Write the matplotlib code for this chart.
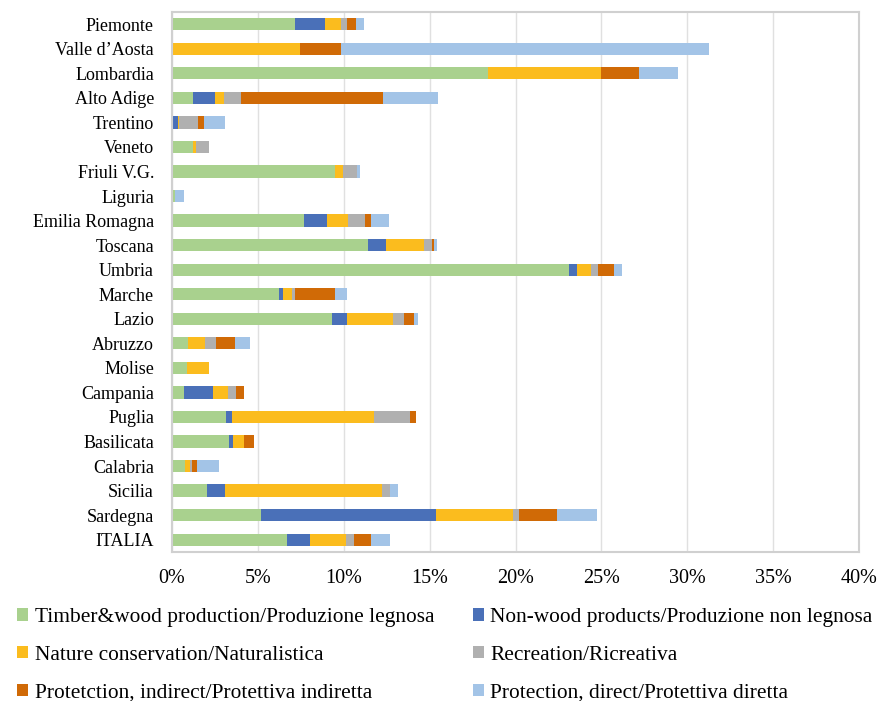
import matplotlib.pyplot as plt
import numpy as np

plt.rcParams['font.family'] = ['Liberation Serif', 'DejaVu Serif']

regions = ['Piemonte', 'Valle d\u2019Aosta', 'Lombardia', 'Alto Adige', 'Trentino', 'Veneto',
           'Friuli V.G.', 'Liguria', 'Emilia Romagna', 'Toscana', 'Umbria', 'Marche',
           'Lazio', 'Abruzzo', 'Molise', 'Campania', 'Puglia', 'Basilicata', 'Calabria',
           'Sicilia', 'Sardegna', 'ITALIA']

# quote percentuali per funzione
timber = [7.16, 0, 18.40, 1.25, 0, 1.25, 9.47, 0.18, 7.67, 11.42, 23.14, 6.21,
          9.34, 0.95, 0.86, 0.70, 3.17, 3.33, 0.76, 2.06, 5.19, 6.71]
nonwood = [1.75, 0, 0, 1.26, 0.33, 0, 0, 0, 1.38, 1.01, 0.46, 0.25,
           0.87, 0, 0, 1.71, 0.33, 0.23, 0, 1.01, 10.16, 1.33]
nature = [0.90, 7.47, 6.60, 0.51, 0.10, 0.17, 0.49, 0, 1.20, 2.24, 0.82, 0.50,
          2.65, 0.98, 1.28, 0.84, 8.25, 0.64, 0.29, 9.13, 4.48, 2.08]
recreation = [0.40, 0, 0, 0.99, 1.07, 0.74, 0.80, 0, 1.00, 0.45, 0.37, 0.22,
              0.62, 0.62, 0, 0.50, 2.08, 0, 0.14, 0.48, 0.35, 0.48]
prot_indirect = [0.53, 2.39, 2.20, 8.25, 0.37, 0, 0, 0, 0.36, 0.11, 0.93, 2.28,
                 0.61, 1.13, 0, 0.45, 0.35, 0.55, 0.25, 0, 2.24, 1.01]
prot_direct = [0.45, 21.38, 2.28, 3.25, 1.20, 0, 0.21, 0.54, 1.00, 0.18, 0.48, 0.73,
               0.23, 0.87, 0, 0, 0, 0, 1.30, 0.47, 2.31, 1.07]

series = [
    ('Timber&wood production/Produzione legnosa', timber, '#A9D18E'),
    ('Non-wood products/Produzione non legnosa', nonwood, '#4A70B8'),
    ('Nature conservation/Naturalistica', nature, '#FBBC1E'),
    ('Recreation/Ricreativa', recreation, '#B0B0B0'),
    ('Protetction, indirect/Protettiva indiretta', prot_indirect, '#D06A06'),
    ('Protection, direct/Protettiva diretta', prot_direct, '#A3C4E7'),
]

fig = plt.figure(figsize=(8.79, 7.01), dpi=100)
ax = fig.add_axes([0.1957, 0.2126, 0.7816, 0.7703])

y = np.arange(len(regions))
left = np.zeros(len(regions))
handles = []
for label, vals, color in series:
    vals = np.array(vals)
    b = ax.barh(y, vals, left=left, height=0.5, color=color, label=label)
    handles.append(b)
    left += vals

ax.set_ylim(len(regions) - 0.5, -0.5)
ax.set_xlim(0, 40)
ax.set_xticks(np.arange(0, 41, 5))
ax.set_xticklabels([f'{v}%' for v in range(0, 41, 5)])
ax.set_yticks(y)
ax.set_yticklabels(regions)
ax.tick_params(axis='y', length=0, labelsize=13, pad=13)
ax.tick_params(axis='x', length=0, labelsize=14.5, pad=12)
ax.grid(axis='x', color='#e0e0e0', linewidth=1)
ax.set_axisbelow(True)
for s in ax.spines.values():
    s.set_color('#d0d0d0')
    s.set_linewidth(1.5)

order = [0, 2, 4, 1, 3, 5]
fig.legend([handles[i] for i in order], [series[i][0] for i in order],
           loc='upper left', bbox_to_anchor=(-0.002, 0.16), ncol=2, frameon=False,
           fontsize=15.4, handlelength=0.5, handleheight=0.5, handletextpad=0.3,
           columnspacing=1.83, labelspacing=0.87)

fig.savefig('out.png', dpi=100)
